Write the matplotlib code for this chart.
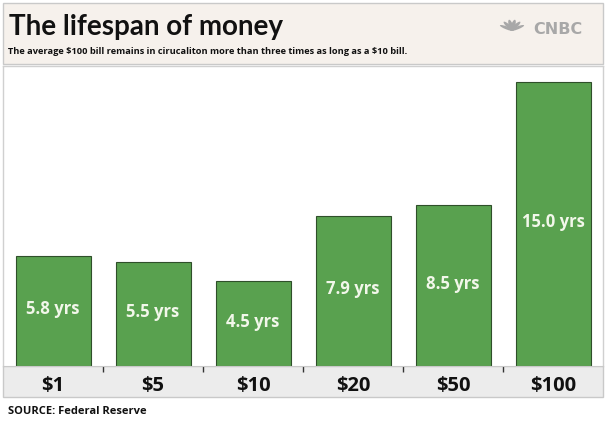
import matplotlib
matplotlib.use("Agg")
import matplotlib.pyplot as plt
from matplotlib.patches import Rectangle, Ellipse
import math

categories = ["$1", "$5", "$10", "$20", "$50", "$100"]
lifespans = [5.8, 5.5, 4.5, 7.9, 8.5, 15.0]
bar_labels = ["5.8 yrs", "5.5 yrs", "4.5 yrs", "7.9 yrs", "8.5 yrs", "15.0 yrs"]
title = "The lifespan of money"
subtitle = r"The average \$100 bill remains in cirucaliton more than three times as long as a \$10 bill."
source = "SOURCE: Federal Reserve"

W, H = 606, 422
fig = plt.figure(figsize=(W / 100, H / 100), dpi=100)
fig.patch.set_facecolor("white")

def fx(px):
    return px / W

def fy(py):
    return 1 - py / H

# header box
fig.patches.append(Rectangle((fx(3), fy(64)), fx(600), 61 / H, transform=fig.transFigure,
                             facecolor="#f6f1ec", edgecolor="#c9c9c9", lw=1, zorder=-2))
# axis band
fig.patches.append(Rectangle((fx(3), fy(397)), fx(600), 31 / H, transform=fig.transFigure,
                             facecolor="#ececec", edgecolor="#c9c9c9", lw=1, zorder=-2))

# simple peacock mark
for k in range(6):
    ang = math.radians(150 - k * 24)
    cx = 512 + 6 * math.cos(ang)
    cy = 31 - 6 * math.sin(ang)
    fig.patches.append(Ellipse((fx(cx), fy(cy)), fx(4), 11 / H, angle=math.degrees(ang) - 90,
                               transform=fig.transFigure, facecolor="#a8a8a8",
                               edgecolor="none", zorder=-1))

fig.text(fx(9), fy(27), title, fontsize=20, fontweight="bold", family="Lato",
         va="center", ha="left", color="#111111")
fig.text(fx(8), fy(52), subtitle, fontsize=6.7, fontweight="bold", family="Open Sans",
         va="center", ha="left", color="#111111")
fig.text(fx(583), fy(29), "CNBC", fontsize=11.5, fontweight="bold", family="DejaVu Sans",
         va="center", ha="right", color="#a8a8a8")
fig.text(fx(8), fy(411), source, fontsize=8, fontweight="bold", family="Open Sans",
         va="center", ha="left", color="#111111")

ax = fig.add_axes([fx(3), fy(366), fx(600), 300 / H])
ax.set_facecolor("white")
x = list(range(len(categories)))
bars = ax.bar(x, lifespans, width=0.75, color="#59a14f", edgecolor="#2f4f2a", linewidth=0.8)
for b, lab, v in zip(bars, bar_labels, lifespans):
    ax.text(b.get_x() + b.get_width() / 2, v / 2 + 0.1, lab, ha="center", va="center",
            fontsize=12, fontweight="bold", family="Open Sans", color="#f2f7ea")
ax.set_xlim(-0.5, len(categories) - 0.5)
ax.set_ylim(0, 15.85)
ax.set_yticks([])
ax.set_xticks(x)
ax.set_xticklabels(categories, fontsize=14.5, fontweight="bold", family="Open Sans", color="#111111")
ax.tick_params(axis="x", length=0, pad=7)
ax.set_xticks([i + 0.5 for i in range(len(categories) - 1)], minor=True)
ax.tick_params(axis="x", which="minor", length=4, width=1, color="#333333", direction="out")
for s in ["top", "left", "right"]:
    ax.spines[s].set_color("#d0d0d0")
    ax.spines[s].set_linewidth(1)
ax.spines["bottom"].set_color("#c9c9c9")

fig.savefig("out.png", dpi=100)
